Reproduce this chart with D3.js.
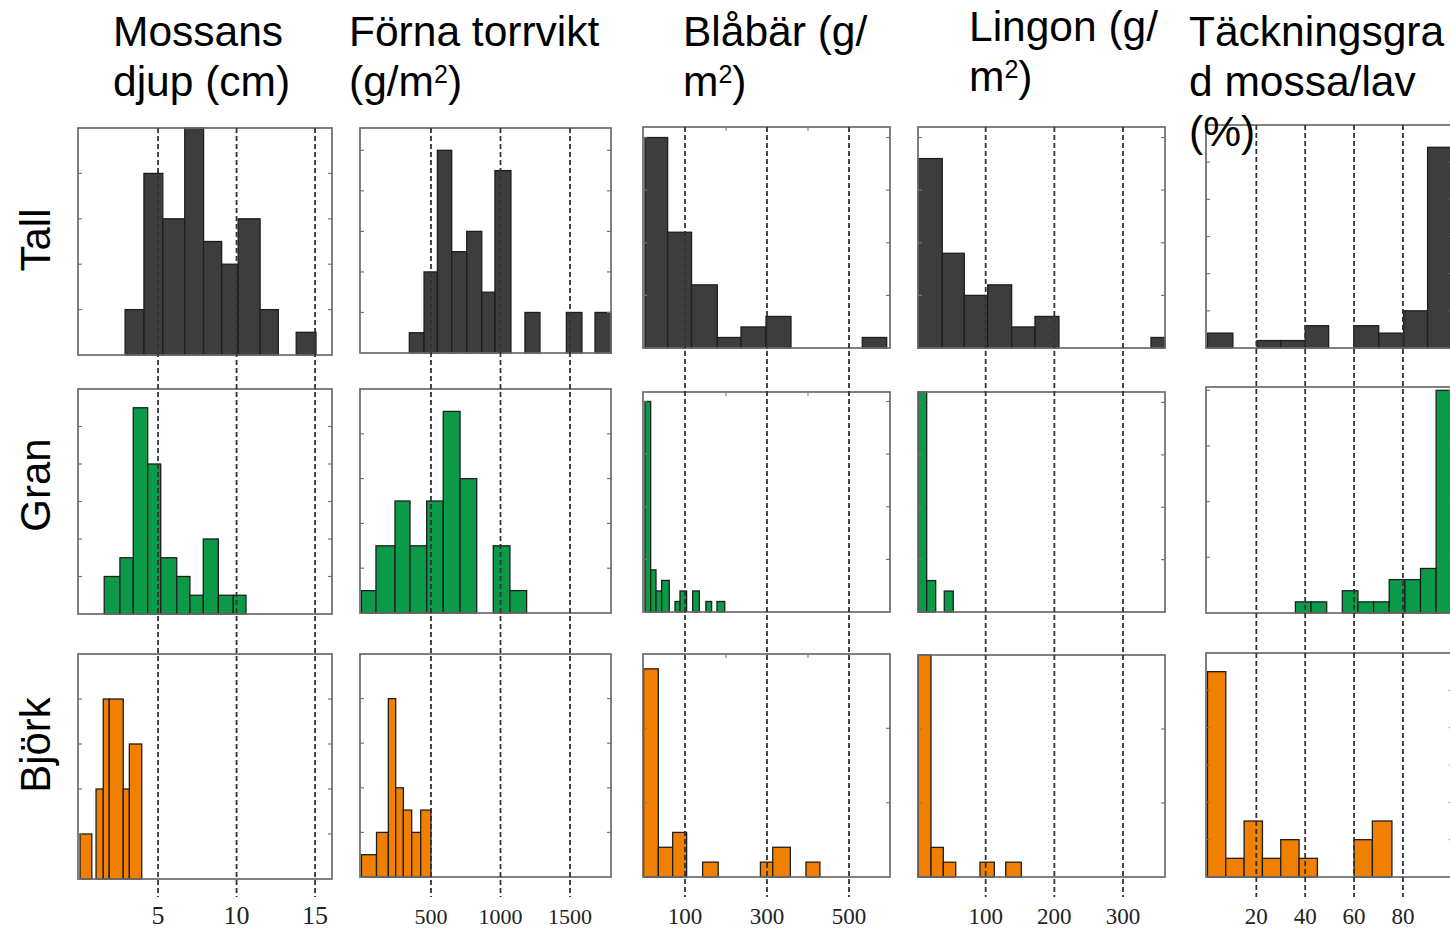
<!DOCTYPE html>
<html>
<head>
<meta charset="utf-8">
<script src="https://cdn.jsdelivr.net/npm/d3@7"></script>
<style>
  body { margin: 0; background: #fff; }
  svg { display: block; }
</style>
</head>
<body>
<div id="chart"></div>
<script>
// ---- data ----
var species = ["Tall", "Gran", "Björk"];
var headers = [
  ["Mossans", "djup (cm)"],
  ["Förna torrvikt", "(g/m^2)"],
  ["Blåbär (g/", "m^2)"],
  ["Lingon (g/", "m^2)"],
  ["Täckningsgra", "d mossa/lav", "(%)"]
];

// Mossans djup (cm)
var djupTallEdges = [2.9, 4.1, 5.3, 6.7, 7.9, 9.05, 10.1, 11.5, 12.66, 13.8, 15.06];
var djupTallCounts = [2, 8, 6, 10, 5, 4, 6, 2, 0, 1];
var djupGranEdges = [1.57, 2.57, 3.42, 4.34, 5.17, 6.19, 7.03, 7.88, 8.84, 9.79, 10.6];
var djupGranCounts = [2, 3, 11, 8, 3, 2, 1, 4, 1, 1];
var djupBjorkEdges = [0.03, 0.78, 1.05, 1.51, 1.89, 2.78, 3.17, 3.96];
var djupBjorkCounts = [2, 0, 4, 8, 8, 4, 6];
var djupTicks = [5, 10, 15];
var djupYMax = [10, 12, 10];
var djupYStep = [2, 2, 2];

// Förna torrvikt (g/m2)
var fornaTallEdges = [344, 450, 546, 649, 757, 865, 960, 1075, 1176, 1284, 1474, 1586, 1680, 1795];
var fornaTallCounts = [1, 4, 10, 5, 6, 3, 9, 0, 2, 0, 2, 0, 2];
var fornaGranEdges = [0, 104, 241, 349, 469, 588, 709, 829, 948, 1068, 1188];
var fornaGranCounts = [1, 3, 5, 3, 5, 9, 6, 0, 3, 1];
var fornaBjorkEdges = [0, 108, 193, 246, 301, 361, 426, 500];
var fornaBjorkCounts = [1, 2, 8, 4, 3, 2, 3];
var fornaTicks = [500, 1000, 1500];
var fornaYMax = [11.1, 10, 10];
var fornaYStep = [2, 2, 2];

// Blåbär (g/m2)
var blabarTallEdges = [2.4, 57.7, 116, 178.8, 236.6, 297.6, 358.5, 416, 475, 532.4, 591.9];
var blabarTallCounts = [20, 11, 6, 1, 2, 3, 0, 0, 0, 1];
var blabarGranEdges = [2.4, 16.3, 29.3, 43.1, 61.6, 75.6, 87.8, 104, 118.8, 135, 151, 165, 178, 197];
var blabarGranCounts = [20, 4, 2, 3, 0, 1, 2, 0, 2, 0, 1, 0, 1];
var blabarBjorkEdges = [-1, 35, 70, 104, 143, 181, 284, 314, 357, 395, 429];
var blabarBjorkCounts = [14, 2, 3, 0, 1, 0, 1, 2, 0, 1];
var blabarTicks = [100, 300, 500];
var blabarMinor = [200, 400];
var blabarYMax = [21, 20.9, 15];
var blabarYStep = [5, 5, 5];

// Lingon (g/m2)
var lingonTallEdges = [1.9, 36.8, 68.9, 102.9, 137.8, 171.8, 206.7, 340.7, 361];
var lingonTallCounts = [18, 9, 5, 6, 2, 3, 0, 1];
var lingonGranEdges = [1.9, 14.1, 27.2, 39.7, 52.8];
var lingonGranCounts = [21, 3, 0, 2];
var lingonBjorkEdges = [1.9, 20.4, 38.3, 56.4, 91.7, 112.6, 129.2, 151.9];
var lingonBjorkCounts = [15, 2, 1, 0, 1, 0, 1];
var lingonTicks = [100, 200, 300];
var lingonYMax = [21, 21, 15];
var lingonYStep = [5, 5, 5];

// Täckningsgrad mossa/lav (%)
var tackTallEdges = [0, 10.4, 20.3, 30.1, 40, 49.6, 59.9, 70.1, 80.3, 90.1, 100];
var tackTallCounts = [2, 0, 1, 1, 3, 0, 3, 2, 5, 27];
var tackGranEdges = [36, 42.4, 48.8, 55.2, 61.6, 68, 74.4, 80.8, 87.2, 93.6, 100];
var tackGranCounts = [1, 1, 0, 2, 1, 1, 3, 3, 4, 20];
var tackBjorkEdges = [0, 7.5, 15, 22.5, 30, 37.5, 45, 60, 67.5, 75.5];
var tackBjorkCounts = [11, 1, 3, 1, 2, 1, 0, 2, 3];
var tackTicks = [20, 40, 60, 80];
var tackYMax = [30, 20.3, 12];
var tackYStep = [5, 5, 2];

// ---- layout ----
var width = 1450, height = 931;
var fills = ["#3d3d3d", "#0b9a48", "#f28000"];

var columns = [
  {left: 78, right: 332, domain: [-0.1, 16.08], labelSize: 26,
   rows: [[128, 355], [389, 614], [654, 879]],
   edges: [djupTallEdges, djupGranEdges, djupBjorkEdges],
   counts: [djupTallCounts, djupGranCounts, djupBjorkCounts],
   ticks: djupTicks, minor: [], ymax: djupYMax, ystep: djupYStep},
  {left: 360, right: 611, domain: [-10.8, 1795], labelSize: 22,
   rows: [[128, 353], [389, 613], [654, 877]],
   edges: [fornaTallEdges, fornaGranEdges, fornaBjorkEdges],
   counts: [fornaTallCounts, fornaGranCounts, fornaBjorkCounts],
   ticks: fornaTicks, minor: [], ymax: fornaYMax, ystep: fornaYStep},
  {left: 643, right: 890, domain: [-2.4, 600], labelSize: 23,
   rows: [[127, 348], [392, 612], [654, 877]],
   edges: [blabarTallEdges, blabarGranEdges, blabarBjorkEdges],
   counts: [blabarTallCounts, blabarGranCounts, blabarBjorkCounts],
   ticks: blabarTicks, minor: blabarMinor, ymax: blabarYMax, ystep: blabarYStep},
  {left: 918, right: 1165, domain: [1.46, 361.1], labelSize: 23,
   rows: [[127, 348], [392, 612], [655, 877]],
   edges: [lingonTallEdges, lingonGranEdges, lingonBjorkEdges],
   counts: [lingonTallCounts, lingonGranCounts, lingonBjorkCounts],
   ticks: lingonTicks, minor: [], ymax: lingonYMax, ystep: lingonYStep},
  {left: 1206, right: 1453, domain: [-0.6, 100.5], labelSize: 23,
   rows: [[125, 348], [387, 613], [653, 877]],
   edges: [tackTallEdges, tackGranEdges, tackBjorkEdges],
   counts: [tackTallCounts, tackGranCounts, tackBjorkCounts],
   ticks: tackTicks, minor: [], ymax: tackYMax, ystep: tackYStep}
];

var headerX = [113, 349, 683, 969, 1189];
var headerY = [46, 46, 46, 41, 46];
var rowLabelY = [240, 485, 745];

var svg = d3.select("#chart").append("svg")
  .attr("width", width)
  .attr("height", height);

svg.append("rect")
  .attr("width", width)
  .attr("height", height)
  .attr("fill", "#fff");

columns.forEach(function(col, ci) {
  var x = d3.scaleLinear().domain(col.domain).range([col.left, col.right]);

  col.rows.forEach(function(r, ri) {
    var y = d3.scaleLinear().domain([0, col.ymax[ri]]).range([r[1], r[0]]);
    var g = svg.append("g");

    var edges = col.edges[ri];
    var bins = col.counts[ri].map(function(c, i) {
      return {x0: edges[i], x1: edges[i + 1], n: c};
    }).filter(function(b) { return b.n > 0; });

    g.selectAll("rect.bar")
      .data(bins)
      .enter().append("rect")
      .attr("class", "bar")
      .attr("x", function(d) { return x(d.x0); })
      .attr("y", function(d) { return y(d.n); })
      .attr("width", function(d) { return x(d.x1) - x(d.x0); })
      .attr("height", function(d) { return y(0) - y(d.n); })
      .attr("fill", fills[ri])
      .attr("stroke", "#1e1e1e")
      .attr("stroke-width", 1.3);

    // y ticks, inward on both sides
    var yt = d3.range(col.ystep[ri], col.ymax[ri] - 0.01, col.ystep[ri]);
    g.selectAll("line.ytl")
      .data(yt).enter().append("line")
      .attr("x1", col.left).attr("x2", col.left + 4)
      .attr("y1", function(d) { return y(d); })
      .attr("y2", function(d) { return y(d); })
      .attr("stroke", "#777").attr("stroke-width", 1.2);
    g.selectAll("line.ytr")
      .data(yt).enter().append("line")
      .attr("x1", col.right).attr("x2", col.right - 4)
      .attr("y1", function(d) { return y(d); })
      .attr("y2", function(d) { return y(d); })
      .attr("stroke", "#777").attr("stroke-width", 1.2);

    // minor x ticks on frame
    g.selectAll("line.xt")
      .data(col.minor).enter().append("line")
      .attr("x1", function(d) { return x(d); })
      .attr("x2", function(d) { return x(d); })
      .attr("y1", r[0]).attr("y2", r[0] + 4)
      .attr("stroke", "#888").attr("stroke-width", 1.2);

    g.append("rect")
      .attr("x", col.left)
      .attr("y", r[0])
      .attr("width", col.right - col.left)
      .attr("height", r[1] - r[0])
      .attr("fill", "none")
      .attr("stroke", "#6a6a6a")
      .attr("stroke-width", 1.7);
  });

  // dashed reference lines through all three rows
  svg.append("g").selectAll("line")
    .data(col.ticks).enter().append("line")
    .attr("x1", function(d) { return x(d); })
    .attr("x2", function(d) { return x(d); })
    .attr("y1", col.rows[0][0])
    .attr("y2", 897)
    .attr("stroke", "#333")
    .attr("stroke-width", 1.8)
    .attr("stroke-dasharray", "5,3");

  // tick labels
  svg.append("g").selectAll("text")
    .data(col.ticks).enter().append("text")
    .attr("x", function(d) { return x(d); })
    .attr("y", 924)
    .attr("text-anchor", "middle")
    .attr("font-family", "'Liberation Serif', 'DejaVu Serif', serif")
    .attr("font-size", col.labelSize)
    .attr("fill", "#222")
    .text(function(d) { return d; });

  // header
  headers[ci].forEach(function(line, li) {
    var t = svg.append("text")
      .attr("x", headerX[ci])
      .attr("y", headerY[ci] + li * 50)
      .attr("font-family", "'Liberation Sans', Arial, sans-serif")
      .attr("font-size", 42.5)
      .attr("fill", "#000");
    line.split("^").forEach(function(part, j) {
      if (j === 0) {
        t.append("tspan").text(part);
      } else {
        t.append("tspan").attr("font-size", 25).attr("dy", -13).text(part[0]);
        t.append("tspan").attr("dy", 13).text(part.slice(1));
      }
    });
  });
});

// row labels
species.forEach(function(s, i) {
  svg.append("text")
    .attr("transform", "rotate(-90)")
    .attr("x", -rowLabelY[i])
    .attr("y", 50)
    .attr("text-anchor", "middle")
    .attr("font-family", "'Liberation Sans', Arial, sans-serif")
    .attr("font-size", 42)
    .attr("fill", "#000")
    .text(s);
});
</script>
</body>
</html>
